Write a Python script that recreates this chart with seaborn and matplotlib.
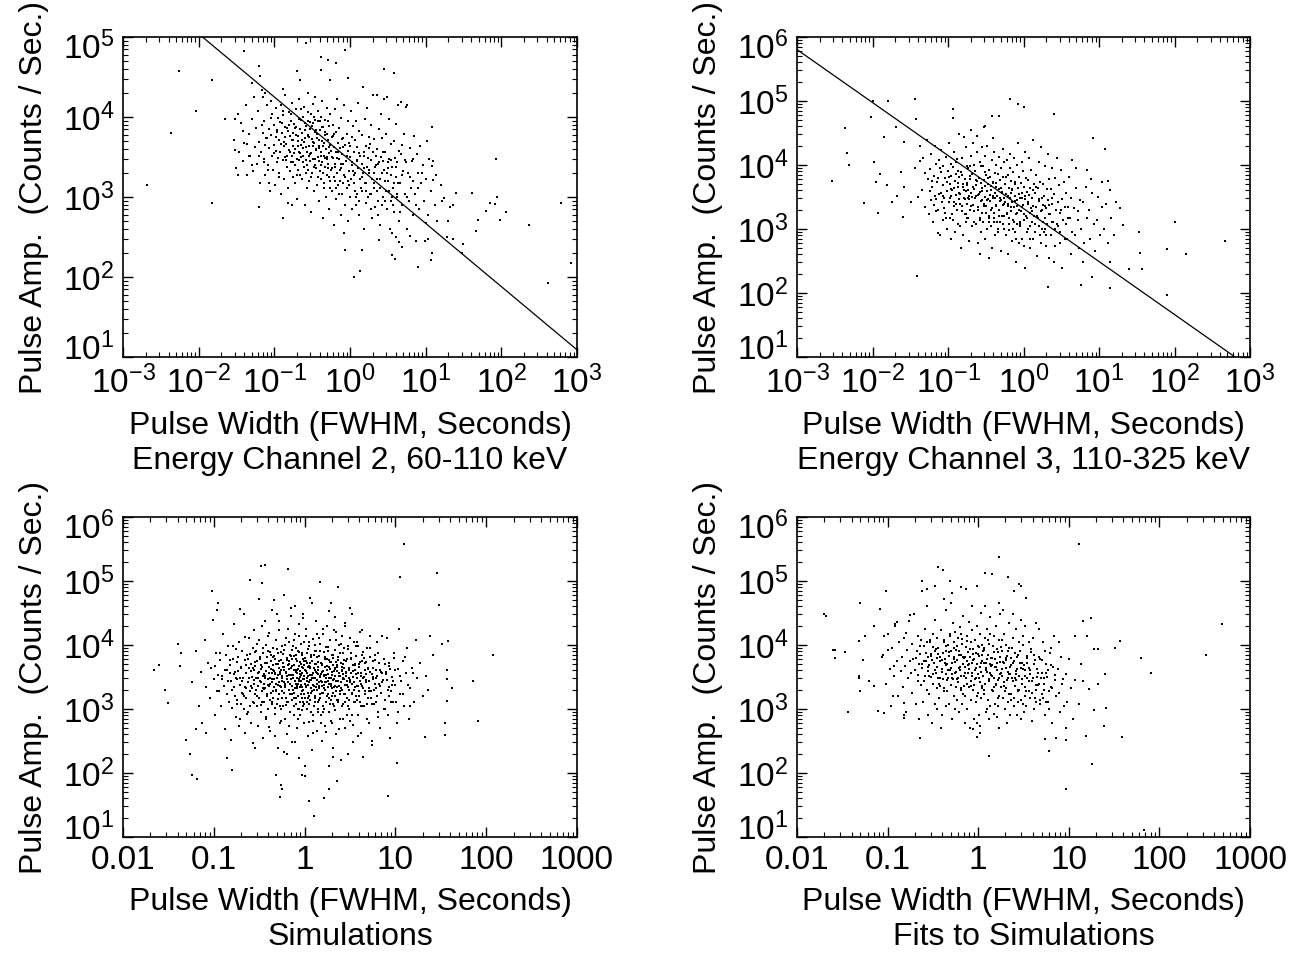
import numpy as np
import pandas as pd
import matplotlib
matplotlib.use("Agg")
import matplotlib.pyplot as plt
import matplotlib.ticker as mticker
import matplotlib.transforms as mtransforms
import seaborn as sns

# ---------------- data (width [s], amplitude [counts/s]) ----------------
ch2_points = [
    # outliers / sparse
    (0.0021,1400),(0.0043,6400),(0.0055,38000),(0.0091,12000),(0.015,29000),(0.015,830),(0.022,9400),
    (0.030,9400),(0.030,3900),(0.038,6600),(0.040,66000),(0.031,2300),(0.033,1860),(0.044,4650),
    (0.046,3250),(0.050,2500),(0.051,26500),(0.062,44000),(0.064,33000),(0.062,760),(0.073,2700),
    (0.071,18000),(0.076,20000),(0.079,5450),(0.086,1500),(0.13,550),(0.15,840),(0.13,22500),
    (0.20,38000),(0.26,83000),(0.22,29000),(0.41,56000),(0.41,39000),(0.51,52000),(0.55,29000),
    (0.65,47000),(0.85,68000),(0.95,31000),(1.48,24000),(2.8,40000),(3.85,35000),(85,3000),(87,1000),
    (82,810),(71,830),(62,660),(95,510),(115,650),(230,450),(410,85),(610,830),(830,150),(49,510),
    (46,375),(41,1120),(31,262),(30,200),(25,1120),(23,800),(21,760),(23,300),(19,320),(20,500),
    (17.5,975),(16.5,890),(16,1400),(14,500),(12,2470),(12,7600),(12.4,1650),(11.7,165),(12,200),
    (10.6,295),(7.8,135),(9.8,280),(10,480),(1.35,120),(1.12,100),(1.46,215),(0.85,220),(3.6,190),
    (3.9,170),(4.85,235),(4.1,320),(2.4,290),(4.5,270),(3.6,355),(2.3,19000),(3.1,18000),(4.7,15500),
    (5.6,14000),
    # main cloud
    (0.029,5200),(0.031,2300),(0.033,11000),(0.034,3600),
    (0.036,8400),(0.038,2800),(0.04,4700),(0.042,14000),(0.044,1900),
    (0.046,6100),(0.048,3300),(0.05,9500),(0.052,2100),(0.054,18000),(0.055,4200),
    (0.057,7200),(0.059,2600),(0.061,12000),(0.063,4900),(0.065,1500),(0.067,3700),(0.069,22000),(0.07,6300),
    (0.072,3000),(0.074,9000),(0.076,1900),(0.078,5500),(0.08,14000),(0.082,2500),(0.084,7000),(0.086,4100),
    (0.088,1200),(0.089,16000),
    (0.09,6000),(0.092,3300),(0.094,11000),(0.096,2200),(0.098,8000),(0.1,4500),(0.102,1400),(0.104,13000),
    (0.106,3800),(0.108,6900),(0.11,2700),(0.112,9800),
    (0.114,5200),(0.116,2000),(0.118,8700),(0.12,3600),(0.122,14000),(0.124,1100),(0.127,6300),(0.13,2900),
    (0.132,10500),(0.134,4400),(0.136,1700),(0.138,7600),(0.139,3200),(0.14,19000),
    (0.142,4600),(0.145,2400),(0.148,7200),(0.151,1300),(0.154,11500),(0.157,3900),(0.16,5800),(0.163,2100),
    (0.166,9000),(0.169,800),(0.171,3300),(0.173,15000),(0.175,6300),(0.176,1800),(0.177,4300),
    (0.179,2700),(0.182,8200),(0.185,4000),(0.188,1500),(0.191,6000),(0.194,12500),(0.197,3000),(0.2,950),
    (0.203,5000),(0.206,2200),(0.209,9500),(0.212,3600),(0.215,17000),(0.218,1900),(0.221,7000),(0.223,4500),
    (0.226,3200),(0.23,6400),(0.234,1700),(0.238,10000),(0.242,4100),(0.246,2400),(0.25,13500),(0.254,800),
    (0.258,5400),(0.262,2900),(0.266,7700),(0.27,1300),(0.274,3700),(0.277,20000),(0.279,5900),(0.28,2200),
    (0.281,9000),
    (0.285,4300),(0.289,1600),(0.293,7000),(0.297,2800),(0.301,11000),(0.305,3500),(0.309,650),(0.313,5300),
    (0.317,2000),(0.321,8300),(0.325,3000),(0.329,14500),(0.333,1200),(0.337,4800),(0.341,2500),(0.345,6500),
    (0.349,18000),(0.353,3900),
    (0.358,2300),(0.363,5500),(0.368,1400),(0.373,8800),(0.378,3200),(0.383,12000),(0.388,900),(0.393,4300),
    (0.398,2100),(0.403,6900),(0.408,3600),(0.413,1700),(0.418,10000),(0.423,5000),(0.428,2700),(0.433,16000),
    (0.438,550),(0.443,7600),
    (0.45,3300),(0.456,1500),(0.462,6000),(0.468,2400),(0.474,9300),(0.48,4000),(0.486,1000),(0.492,3000),
    (0.498,13000),(0.504,1900),(0.51,5200),(0.516,2600),(0.522,700),(0.528,7800),(0.534,3500),(0.54,1300),
    (0.546,11000),(0.552,4500),
    (0.566,2200),(0.574,5600),(0.582,1200),(0.59,8000),(0.598,3100),(0.606,450),(0.614,4200),(0.622,1800),
    (0.63,12500),(0.638,2600),(0.646,6500),(0.654,950),(0.662,3600),(0.67,17000),(0.678,2000),(0.686,4800),
    (0.696,1400),
    (0.712,3000),(0.722,7200),(0.732,1600),(0.742,4100),(0.752,600),(0.762,2300),(0.772,9800),(0.782,3400),
    (0.792,1100),(0.802,5500),(0.812,2600),(0.822,350),(0.832,14000),(0.842,1900),(0.852,4500),(0.862,800),
    (0.895,2800),(0.906,6200),(0.918,1300),(0.93,3800),(0.942,9000),(0.955,500),(0.968,2100),(0.98,4800),
    (0.993,1000),(1.006,3200),(1.02,12000),(1.034,1700),(1.048,5600),(1.062,700),(1.076,2500),(1.09,7800),
    (1.13,3600),(1.145,1500),(1.16,5100),(1.175,2000),(1.19,800),(1.205,8900),(1.22,2800),(1.235,1100),
    (1.25,4200),(1.265,15000),(1.28,2300),(1.3,600),(1.32,6600),(1.34,1700),(1.36,3300),
    (1.42,2600),(1.44,1200),(1.46,6000),(1.485,2000),(1.51,400),(1.535,3700),(1.56,9500),(1.585,1500),
    (1.61,4400),(1.635,850),(1.66,2400),(1.685,13000),(1.71,3100),(1.735,1000),(1.76,5700),
    (1.8,2000),(1.83,4600),(1.86,1100),(1.89,2900),(1.92,8000),(1.95,550),(1.98,1700),(2.01,3700),
    (2.04,19000),(2.07,1300),(2.1,5300),(2.13,2400),(2.16,750),(2.2,3300),
    (2.26,1700),(2.3,4000),(2.34,900),(2.38,2600),(2.42,7000),(2.46,1300),(2.5,450),(2.55,3200),
    (2.6,11000),(2.64,2000),(2.68,5400),(2.72,1000),(2.76,2800),(2.8,17000),
    (2.85,2200),(2.9,3700),(2.96,1200),(3.02,6200),(3.08,700),(3.14,2700),(3.2,1600),(3.26,9500),
    (3.32,3000),(3.38,400),(3.44,1900),(3.5,4600),(3.54,1000),
    (3.6,2400),(3.68,1300),(3.76,5000),(3.84,650),(3.92,3100),(4.0,1800),(4.08,8200),(4.16,1000),
    (4.24,2700),(4.32,14000),(4.4,500),(4.46,3800),
    (4.55,1500),(4.7,3400),(4.85,800),(5.0,2100),(5.15,6200),(5.3,1100),(5.45,2700),(5.55,13500),
    (5.6,400),(4.9,4500),
    (5.8,2000),(6.0,900),(6.2,4100),(6.4,1300),(6.6,2800),(6.8,600),(7.0,5800),(6.3,330),(6.9,1600),
    (7.3,1100),(7.6,3400),(7.9,2000),(8.2,700),(8.5,4300),(8.8,1500),(7.5,280),
    (9.2,2500),(9.6,900),(10.0,1700),(10.4,5000),(10.8,600),(11.0,3000),
    (11.8,1200),(12.6,2800),(13.2,800),(13.8,1900),
    # denser core
    (0.105,5700),(0.112,3100),(0.125,8300),(0.133,4900),(0.143,2900),(0.152,6700),(0.161,3700),(0.168,11000),
    (0.178,5200),(0.186,2500),(0.196,7600),(0.205,4300),(0.214,2900),(0.224,9200),(0.232,5100),(0.24,3300),
    (0.252,6900),(0.261,4200),(0.27,2500),(0.28,11500),(0.29,5600),(0.3,3400),(0.31,7800),(0.32,4400),
    (0.335,2400),(0.346,9300),(0.36,4000),(0.37,6100),(0.385,2800),(0.395,5200),(0.41,3300),(0.425,7400),
    (0.44,2000),(0.455,4800),(0.47,3100),(0.49,6200),(0.51,2300),(0.53,4200),(0.55,1600),(0.57,3200),
    (0.6,5800),(0.63,2400),(0.66,1300),(0.7,3600),(0.74,2200),(0.78,5300),(0.82,1500),(0.88,2800),
    (0.94,1600),(1.0,4300),(1.08,2100),(1.15,1200),(1.24,2900),(1.33,900),(1.45,1800),(1.55,3300),
    (1.65,1200),(1.78,2200),(1.9,700),(2.05,1500),(2.2,2500),(2.35,600),(2.5,1700),(2.7,3600),
    (2.9,900),(3.1,2000),(3.3,1200),(3.5,2900),(3.75,800),(4.0,2400),(4.3,1500),(4.6,650),
    (4.9,1900),(5.3,2900),(5.7,1000),(6.2,1800),(6.8,3000),(7.4,800),(8.0,1300),(9.0,2000),
    (0.062,3300),(0.068,8000),(0.075,4500),(0.083,2200),(0.091,9800),(0.099,3500),(0.107,6500),(0.115,1800),
    (0.123,4600),(0.131,12000),(0.139,5700),(0.147,3300),(0.156,8000),(0.164,2700),(0.172,5200),(0.181,3500),
    (0.19,7300),(0.199,1900),(0.208,5800),(0.218,3500),(0.228,12500),(0.237,2700),(0.247,4900),(0.256,8400),
    (0.266,2000),(0.276,5800),(0.286,3300),(0.298,8600),(0.309,1800),(0.321,4900),(0.334,10000),(0.347,3000),
    (0.36,6800),(0.375,1800),(0.39,4100),(0.405,9000),(0.42,2500),(0.436,4400),(0.453,1300),(0.47,6500),
    (0.49,3200),(0.51,8800),(0.532,1800),(0.555,3800),(0.58,2300),(0.61,6100),(0.64,1600),(0.675,3100),
    (0.71,1100),(0.75,2600),(0.8,4200),(0.86,1800),(0.92,3300),(0.98,1400),(1.05,2700),(1.12,1900),
    (1.2,1000),(1.3,3500),(1.4,1300),(1.52,2300),(1.64,1500),(1.77,4100),(1.92,1100),(2.08,2000),
    (2.25,1200),(2.45,2700),(2.66,800),(2.9,1600),(3.15,2300),(3.45,900),(3.8,1500),(4.2,1100),
]

ch3_points = [
    # outliers / sparse
    (0.0029,5700),(0.0043,38000),(0.0046,15500),(0.0049,9900),(0.0076,2570),(0.0095,56000),(0.010,100000),
    (0.0104,11200),(0.011,5400),(0.0118,1800),(0.0126,7200),(0.016,100000),(0.0143,27000),(0.0155,4800),
    (0.0183,2600),(0.0205,39000),(0.021,3300),(0.0235,7700),(0.025,1550),(0.026,4600),(0.0265,23000),
    (0.037,107000),(0.038,52000),(0.039,185),(0.036,8900),(0.032,2600),(0.042,11500),(0.056,1700),
    (0.074,870),(0.115,75000),(0.115,54000),(0.30,39000),(0.385,59000),(0.47,59000),(0.66,107000),
    (0.85,89000),(1.0,81000),(2.5,63000),(8.4,26500),(12,17500),(13,5700),(19,2100),(21,1170),(34,900),
    (35,420),(37,233),(25,233),(14,300),(14,120),(5.8,135),(2.1,125),(80,490),(100,1300),(140,410),
    (80,93),(470,650),(8,180),
    # main cloud
    (0.036,9000),(0.04,3200),(0.043,20000),
    (0.045,4000),(0.047,13000),(0.049,2200),(0.05,7500),(0.053,25000),(0.055,6000),
    (0.057,8600),(0.059,2800),(0.06,15000),(0.062,4600),(0.064,1300),(0.065,6800),(0.067,3300),(0.068,20000),
    (0.069,1900),(0.07,10500),
    (0.072,5400),(0.074,2000),(0.075,12000),(0.077,3500),(0.079,800),(0.08,7700),(0.082,17000),(0.083,2600),
    (0.085,4800),(0.086,1400),(0.087,9500),(0.088,3000),
    (0.09,6300),(0.092,1800),(0.094,13500),(0.096,3900),(0.098,1000),(0.1,8200),(0.102,2600),(0.104,22000),
    (0.106,5000),(0.107,1500),(0.108,3300),(0.109,10500),(0.11,700),(0.111,6800),
    (0.113,4100),(0.115,1400),(0.117,9200),(0.119,2600),(0.121,16000),(0.123,5600),(0.125,900),(0.127,3400),
    (0.129,7300),(0.131,2000),(0.133,12500),(0.135,4500),(0.137,1200),(0.138,30000),(0.139,2900),(0.14,6400),
    (0.142,3700),(0.145,1100),(0.148,7900),(0.151,2300),(0.154,13000),(0.157,4600),(0.16,800),(0.163,3000),
    (0.166,6100),(0.169,1700),(0.171,19000),(0.173,3900),(0.175,1300),(0.176,9800),(0.177,2500),(0.178,5200),
    (0.15,500),(0.165,27000),
    (0.18,4800),(0.183,1500),(0.186,9000),(0.189,2900),(0.192,650),(0.195,6000),(0.198,2000),(0.201,14000),
    (0.204,3600),(0.207,1100),(0.21,7300),(0.213,2400),(0.216,22000),(0.219,4200),(0.221,1300),(0.223,10000),
    (0.19,3300),(0.2,35000),
    (0.226,3100),(0.23,8000),(0.234,1200),(0.238,4800),(0.242,16000),(0.246,2200),(0.25,600),(0.254,6200),
    (0.258,3500),(0.262,1500),(0.266,11000),(0.27,2700),(0.274,5300),(0.277,900),(0.279,19000),(0.28,3900),
    (0.281,1800),(0.24,28000),(0.265,400),
    (0.285,4300),(0.289,1300),(0.293,9500),(0.297,2500),(0.301,5800),(0.305,700),(0.309,3200),(0.313,14000),
    (0.317,1800),(0.321,7000),(0.325,3900),(0.329,1000),(0.333,20000),(0.337,2900),(0.341,5000),(0.345,1500),
    (0.349,8400),(0.353,350),(0.31,40000),
    (0.358,2700),(0.363,6600),(0.368,1100),(0.373,4000),(0.378,12000),(0.383,2100),(0.388,500),(0.393,5400),
    (0.398,3000),(0.403,16000),(0.408,1500),(0.413,7500),(0.418,3600),(0.423,800),(0.428,10000),(0.433,2300),
    (0.438,4600),(0.443,1300),(0.4,26000),
    (0.45,3300),(0.456,900),(0.462,7200),(0.468,2000),(0.474,13500),(0.48,4200),(0.486,1300),(0.492,5800),
    (0.498,450),(0.504,2800),(0.51,9000),(0.516,1600),(0.522,3800),(0.528,18000),(0.534,2400),(0.54,6400),
    (0.546,1000),(0.552,3100),(0.558,11000),
    (0.566,2600),(0.574,5000),(0.582,800),(0.59,3500),(0.598,12000),(0.606,1700),(0.614,7000),(0.622,2300),
    (0.63,400),(0.638,4400),(0.646,1200),(0.654,9000),(0.662,3000),(0.67,15000),(0.678,1900),(0.686,5600),
    (0.694,650),(0.702,2600),
    (0.712,4000),(0.722,1400),(0.732,7800),(0.742,2200),(0.752,13000),(0.762,900),(0.772,3300),(0.782,5500),
    (0.792,1700),(0.802,300),(0.812,2800),(0.822,10000),(0.832,1200),(0.842,4300),(0.852,22000),(0.862,2000),
    (0.872,6400),(0.882,600),
    (0.895,3000),(0.906,1100),(0.918,5200),(0.93,1900),(0.942,11000),(0.955,700),(0.968,3700),(0.98,2400),
    (0.993,8000),(1.006,1400),(1.02,4600),(1.034,250),(1.048,2900),(1.062,16000),(1.076,1600),(1.09,6300),
    (1.105,900),
    (1.13,2500),(1.145,5800),(1.16,1000),(1.175,3400),(1.19,13000),(1.205,1800),(1.22,500),(1.235,4300),
    (1.25,2100),(1.265,8500),(1.28,1300),(1.3,3000),(1.32,25000),(1.34,700),(1.36,5000),(1.38,1600),
    (1.42,3600),(1.44,1200),(1.46,7000),(1.485,2200),(1.51,380),(1.535,4300),(1.56,1500),(1.585,11000),
    (1.61,2700),(1.635,800),(1.66,5500),(1.685,1900),(1.71,19000),(1.735,3000),(1.76,1000),
    (1.8,2400),(1.83,5000),(1.86,900),(1.89,3300),(1.92,1500),(1.95,9500),(1.98,550),(2.01,2100),
    (2.04,4200),(2.07,1200),(2.1,15000),(2.13,2800),(2.16,350),(2.2,6000),
    (2.26,1700),(2.3,4200),(2.34,800),(2.38,2500),(2.42,9000),(2.46,1300),(2.5,300),(2.55,3500),
    (2.6,1000),(2.64,6200),(2.68,2000),(2.76,13000),
    (2.85,2600),(2.9,1100),(2.96,4800),(3.02,600),(3.08,1800),(3.14,8500),(3.2,2900),(3.26,250),
    (3.32,1400),(3.4,5400),(3.5,2200),
    (3.6,1200),(3.7,3600),(3.8,700),(3.9,2200),(4.0,6500),(4.1,1500),(4.2,400),(4.3,3000),(4.4,900),
    (4.45,12000),
    (4.6,2100),(4.8,800),(5.0,4400),(5.2,1400),(5.4,500),(5.6,2800),(4.9,9000),(5.3,1900),
    (5.8,1000),(6.1,2600),(6.4,600),(6.7,4500),(7.0,1500),(6.2,300),(6.9,8500),
    (7.3,2000),(7.7,700),(8.1,3700),(8.5,1200),(8.9,450),(7.9,6000),
    (9.3,1400),(9.8,3200),(10.3,800),(10.8,2200),(11.1,5500),
    (11.6,1000),(12.3,2500),(13,600),(13.8,4000),
    (14.6,1500),(15.8,800),(17,2600),
    # denser core
    (0.058,3900),(0.066,2400),(0.073,6300),(0.081,3700),(0.089,2100),(0.097,5400),(0.105,3100),(0.113,1700),
    (0.12,4300),(0.128,2500),(0.136,8200),(0.144,3500),(0.152,1900),(0.16,5100),(0.168,2900),(0.176,1500),
    (0.185,4000),(0.194,6800),(0.203,2300),(0.212,4600),(0.222,1300),(0.232,3300),(0.243,5600),(0.253,2000),
    (0.263,3800),(0.273,9500),(0.283,2800),(0.295,1300),(0.307,4700),(0.32,2300),(0.334,6200),(0.347,1600),
    (0.36,3400),(0.375,2000),(0.39,5200),(0.405,1300),(0.42,3100),(0.437,2400),(0.455,7200),(0.473,1600),
    (0.49,3000),(0.51,4400),(0.53,1200),(0.55,2500),(0.575,5000),(0.6,1800),(0.625,3300),(0.65,950),
    (0.68,2200),(0.71,4200),(0.74,1300),(0.77,2700),(0.8,700),(0.83,1800),(0.87,3500),(0.91,1200),
    (0.95,2200),(1.0,550),(1.05,3300),(1.1,1500),(1.16,2600),(1.22,700),(1.28,1900),(1.35,4000),
    (1.42,900),(1.5,1600),(1.6,2900),(1.7,600),(1.8,1300),(1.9,2300),(2.0,800),(2.2,1700),
    (2.4,3000),(2.6,550),(2.8,1200),(3.1,2000),(3.5,700),(3.9,1500),
    (0.062,5600),(0.07,2900),(0.078,9000),(0.086,3300),(0.095,1500),(0.103,6400),(0.111,4200),(0.119,2300),
    (0.127,11000),(0.135,5200),(0.145,2500),(0.155,7000),(0.165,4000),(0.175,1700),(0.186,3000),(0.198,9800),
    (0.21,3200),(0.223,1900),(0.236,5800),(0.25,3400),(0.265,1400),(0.28,4400),(0.296,2300),(0.313,7900),
    (0.33,2800),(0.35,1300),(0.37,4700),(0.39,3300),(0.412,1800),(0.435,5200),(0.46,1000),(0.485,2700),
    (0.515,3600),(0.545,1600),(0.58,6600),(0.615,2500),(0.65,1500),(0.69,3600),(0.73,1000),(0.78,5000),
    (0.83,2300),(0.89,1300),(0.96,3100),(1.03,1700),(1.12,3800),(1.22,1100),(1.33,2300),(1.46,4600),
    (1.6,1100),(1.76,2000),(1.95,1000),(2.15,2400),(2.4,1300),(2.7,2000),(3.0,900),
]

sim_points = [
    # outliers / sparse
    (0.022,4100),(0.025,4800),(0.029,2000),(0.031,1240),(0.040,10500),(0.043,7500),(0.042,4700),
    (0.050,325),(0.055,195),(0.057,92),(0.066,81),(0.063,480),(0.083,420),(0.096,71000),(0.109,35000),
    (0.11,46000),(0.14,170),(0.16,110),(0.195,36000),(0.25,105000),(0.33,170000),(0.37,176000),
    (0.34,93000),(0.65,155000),(0.49,92),(0.55,65),(0.56,56),(0.54,42),(0.94,93),(1.12,37),(1.28,21),
    (1.65,40),(1.85,56),(2.3,76),(8.3,44),(11.2,115000),(12.3,380000),(29,133000),(30,42000),
    (38,11500),(33,10500),(42,2100),(37,4000),(37,2900),(37,1320),(35,600),(35,390),(72,2700),
    (82,660),(120,7100),(24,14000),(21,360),(10.3,145),
    # main cloud
    (0.058,2600),(0.064,8000),(0.069,1100),
    (0.072,3800),(0.075,600),(0.079,12000),(0.083,2200),(0.087,5200),
    (0.090,1500),(0.093,4400),(0.097,25000),(0.1,2900),(0.104,800),(0.107,7600),(0.11,3400),
    (0.113,1900),(0.116,5800),(0.12,1100),(0.123,3300),(0.127,15000),(0.13,2300),(0.134,480),(0.137,6900),
    (0.14,4000),
    (0.142,2700),(0.145,9500),(0.148,1300),(0.152,4800),(0.155,330),(0.158,2000),(0.162,6100),(0.165,3500),
    (0.169,21000),(0.172,1600),(0.175,750),(0.177,3000),
    (0.179,5400),(0.182,1200),(0.185,3900),(0.188,11000),(0.192,2400),(0.195,700),(0.199,4600),(0.202,1800),
    (0.206,8200),(0.209,3100),(0.213,1000),(0.216,30000),(0.219,2200),(0.221,5900),(0.223,420),
    (0.226,3600),(0.229,1500),(0.233,7000),(0.236,2600),(0.24,900),(0.243,4300),(0.247,13000),(0.25,1900),
    (0.254,5100),(0.258,600),(0.262,3200),(0.265,2100),(0.269,9000),(0.272,1300),(0.275,4000),(0.277,17000),
    (0.279,2800),(0.281,250),
    (0.284,4700),(0.287,1700),(0.29,3000),(0.293,8000),(0.297,1100),(0.3,5600),(0.304,2300),(0.307,550),
    (0.311,3800),(0.315,12000),(0.318,1500),(0.322,6500),(0.326,2700),(0.33,900),(0.334,4200),(0.337,20000),
    (0.341,1900),(0.345,3300),(0.348,350),(0.351,7400),(0.354,2500),
    (0.357,3500),(0.36,1300),(0.364,5300),(0.368,2100),(0.372,10000),(0.376,700),(0.38,3900),(0.384,1600),
    (0.388,6600),(0.392,2900),(0.396,14000),(0.4,1000),(0.404,4500),(0.408,2300),(0.412,450),(0.416,7800),
    (0.42,3000),(0.424,1800),(0.428,5600),(0.432,35000),(0.436,1200),(0.44,3600),(0.443,2600),(0.446,9000),
    (0.449,4100),(0.454,1500),(0.459,2900),(0.464,6800),(0.469,850),(0.474,3500),(0.479,2000),(0.484,12000),
    (0.489,5000),(0.494,1200),(0.499,3100),(0.504,250),(0.509,7400),(0.514,2400),(0.519,4400),(0.524,1700),
    (0.529,17000),(0.534,600),(0.539,3800),(0.544,2200),(0.549,5900),(0.553,1000),(0.557,9600),(0.56,2700),
    (0.46,50000),(0.52,24000),
    (0.565,3300),(0.57,1900),(0.576,5200),(0.582,1100),(0.588,8500),(0.594,2600),(0.6,4000),(0.606,700),
    (0.612,2200),(0.618,13000),(0.624,1500),(0.63,3700),(0.636,6300),(0.642,400),(0.648,2900),(0.654,1300),
    (0.66,4800),(0.666,11000),(0.672,2000),(0.678,3400),(0.684,900),(0.69,7100),(0.696,2500),(0.702,28000),
    (0.705,1700),(0.59,60000),(0.64,200),(0.68,5600),
    (0.711,4300),(0.718,2300),(0.726,6000),(0.733,1400),(0.74,3100),(0.748,9500),(0.755,1800),(0.763,4900),
    (0.77,800),(0.778,2700),(0.786,15000),(0.794,3800),(0.802,1200),(0.81,6900),(0.818,2100),(0.826,500),
    (0.834,4000),(0.842,1600),(0.85,8000),(0.858,2900),(0.866,21000),(0.874,1000),(0.882,3500),(0.889,5400),
    (0.73,300),(0.79,40000),(0.84,2500),(0.86,170),(0.76,12000),
    (0.894,3200),(0.902,1700),(0.91,5000),(0.918,2400),(0.927,950),(0.935,7600),(0.944,3600),(0.952,1300),
    (0.961,4400),(0.97,2000),(0.979,11000),(0.988,600),(0.997,2900),(1.006,6300),(1.015,1500),(1.024,3900),
    (1.033,18000),(1.043,2200),(1.052,1000),(1.062,5200),(1.072,2700),(1.081,380),(1.091,8700),(1.101,3300),
    (1.11,1200),(1.118,4700),(0.95,30000),(1.0,90),(1.04,14000),(1.09,1800),
    (1.125,2600),(1.135,4600),(1.146,1400),(1.157,3400),(1.168,7000),(1.179,900),(1.19,2800),(1.201,5600),
    (1.212,1900),(1.224,12500),(1.235,3700),(1.247,650),(1.258,2300),(1.27,4300),(1.282,1100),(1.294,8200),
    (1.306,3000),(1.318,1600),(1.331,5100),(1.343,24000),(1.356,450),(1.369,2500),(1.382,6400),(1.395,1300),
    (1.405,3500),(1.16,55000),(1.22,230),(1.3,10000),(1.37,2000),
    (1.42,4100),(1.435,2100),(1.45,6800),(1.465,1500),(1.48,3200),(1.495,10500),(1.51,800),(1.525,2700),
    (1.54,5000),(1.555,1800),(1.57,3800),(1.585,15000),(1.6,1100),(1.615,2400),(1.63,7700),(1.645,3400),
    (1.66,550),(1.675,4600),(1.69,2000),(1.705,9200),(1.72,1300),(1.735,3000),(1.75,20000),(1.765,6000),
    (1.47,95000),(1.56,320),(1.68,2600),(1.78,1600),
    (1.8,3500),(1.82,1700),(1.84,5800),(1.86,2500),(1.88,900),(1.9,4200),(1.92,12000),(1.94,1400),
    (1.96,3000),(1.98,7100),(2.0,2100),(2.02,600),(2.04,4900),(2.06,1200),(2.08,2800),(2.1,17000),
    (2.12,3900),(2.14,1600),(2.16,8500),(2.18,2300),(2.2,400),(2.22,5500),(1.85,130),(1.95,45000),
    (2.05,250),(2.15,27000),
    (2.25,4500),(2.28,2200),(2.31,6400),(2.34,1300),(2.37,3300),(2.4,10000),(2.43,1900),(2.46,700),
    (2.49,5200),(2.52,2600),(2.55,3900),(2.58,14000),(2.61,1100),(2.64,2900),(2.67,7400),(2.7,1700),
    (2.73,4300),(2.76,500),(2.79,22000),(2.81,2400),(2.35,80000),(2.5,160),(2.62,3500),(2.72,9000),
    (2.84,3300),(2.88,5600),(2.92,1500),(2.96,2700),(3.0,8800),(3.04,1100),(3.08,4100),(3.12,2000),
    (3.16,13000),(3.2,650),(3.24,3600),(3.28,6300),(3.32,1700),(3.36,2500),(3.4,300),(3.44,4800),
    (3.48,11000),(3.52,1300),(3.0,200),(3.3,30000),(3.1,3000),
    (3.58,4000),(3.63,2200),(3.68,6800),(3.73,1400),(3.78,3000),(3.83,9800),(3.88,800),(3.93,5100),
    (3.98,1900),(4.03,2700),(4.08,16000),(4.13,1100),(4.18,3700),(4.23,420),(4.28,5700),(4.33,2300),
    (4.38,180),(4.43,7900),
    (4.5,3200),(4.58,5300),(4.66,1700),(4.74,2600),(4.82,9000),(4.9,1200),(4.98,4200),(5.06,600),
    (5.14,2100),(5.22,6600),(5.3,14000),(5.38,1500),(5.46,3500),(5.54,270),(5.6,2900),
    (5.7,4400),(5.82,2000),(5.94,7000),(6.06,1300),(6.18,3100),(6.3,11000),(6.42,900),(6.54,2500),
    (6.66,5200),(6.78,500),(6.9,1800),(7.02,3800),
    (7.2,2600),(7.4,6000),(7.6,1400),(7.8,3500),(8.0,13000),(8.2,800),(8.4,2200),(8.6,4700),(8.8,350),
    (8.9,1900),
    (9.1,3200),(9.4,1300),(9.7,7500),(10.0,2400),(10.3,600),(10.6,4200),(10.9,18000),(11.1,1700),
    (11.5,2700),(12.0,5600),(12.5,1100),(13.0,3600),(13.5,9000),(14.0,700),
    (14.5,2100),(15.2,4400),(16.0,1300),(16.8,12000),(17.5,3000),
    (18.5,5200),(20,1600),(21.5,3300),
    (23,2000),(26,7000),
    # denser core
    (0.205,2700),(0.215,1600),(0.228,4900),(0.235,850),(0.245,3100),(0.252,7200),(0.26,2300),(0.268,4300),
    (0.275,1250),(0.283,5500),(0.292,2000),(0.298,10500),
    (0.306,3700),(0.312,1500),(0.319,6100),(0.327,2600),(0.335,1150),(0.343,4600),(0.352,8900),(0.361,2050),
    (0.369,3300),(0.377,750),(0.385,5300),(0.394,2400),(0.402,15500),(0.41,3600),(0.419,1400),(0.427,7000),
    (0.435,2900),(0.444,4900),
    (0.452,1900),(0.461,3900),(0.47,6100),(0.478,1050),(0.487,2500),(0.496,8800),(0.506,3400),(0.515,1450),
    (0.525,5700),(0.535,2250),(0.545,4100),(0.555,650),(0.566,3000),(0.577,7200),(0.588,1800),(0.599,4600),
    (0.61,2500),(0.621,1150),(0.633,5900),(0.645,3300),(0.657,17500),(0.669,2000),(0.681,4200),(0.693,900),
    (0.705,6800),
    (0.715,2900),(0.725,1700),(0.735,4700),(0.745,3400),(0.755,1100),(0.765,6700),(0.775,2100),(0.785,4000),
    (0.795,9000),(0.805,1500),(0.815,3100),(0.825,5700),(0.835,2300),(0.845,700),(0.855,4200),(0.865,2700),
    (0.875,7800),(0.885,1300),(0.895,3900),(0.905,2700),(0.915,10500),(0.925,1900),(0.935,4600),(0.945,2200),
    (0.955,6000),(0.965,1100),(0.975,3300),(0.985,4900),(0.995,1700),
    (1.01,2500),(1.03,5700),(1.05,1300),(1.07,3700),(1.09,2400),(1.11,9800),(1.13,1600),(1.15,4300),
    (1.17,2100),(1.19,6400),(1.21,3000),(1.23,800),(1.25,3600),(1.27,2000),(1.29,5100),(1.31,1300),
    (1.33,3800),(1.35,8000),(1.37,2800),(1.39,1000),(1.41,4600),(1.43,2300),(1.45,13000),(1.47,3300),
    (1.49,1700),
    (1.52,5200),(1.55,2600),(1.58,900),(1.61,3900),(1.64,2100),(1.67,6600),(1.7,1300),(1.73,3400),
    (1.76,4700),(1.79,2200),(1.82,9200),(1.85,3000),(1.88,1500),(1.91,5500),(1.94,2500),(1.97,650),
    (2.0,3800),(2.03,1800),(2.06,6200),(2.09,2900),(2.12,1100),(2.15,4400),(2.18,3300),(2.21,12000),
    (2.24,1900),(2.28,4900),(2.32,2700),(2.36,1400),(2.4,3600),(2.44,7500),
    (2.5,2100),(2.56,4600),(2.62,1200),(2.68,3100),(2.74,5900),(2.8,1700),(2.86,3800),(2.92,2400),
    (2.98,9500),(3.05,1400),(3.12,4300),(3.19,2600),(3.26,6000),(3.33,800),(3.4,3200),(3.48,2000),
    (3.56,5100),(3.64,1600),(3.72,3500),(3.8,11000),(3.9,2300),(4.0,4600),(4.1,1300),(4.2,3300),
    (4.3,6900),(4.4,2100),(4.5,1100),(4.6,4000),(4.7,2800),(4.8,5500),
    (5.1,1900),(5.3,3800),(5.5,1200),(5.7,5600),(5.9,2500),(6.1,4000),(6.3,1600),(6.5,7500),
    (6.8,2300),(7.1,3600),(7.4,1000),(7.7,5000),(8.0,2800),(8.4,1600),(8.8,4200),(9.2,2400),
    (9.6,6300),(10.1,1300),
    (0.102,4700),(0.108,1900),(0.118,7500),(0.124,2900),(0.132,4100),(0.141,1700),(0.149,5900),(0.156,2700),
    (0.163,9800),(0.171,3800),(0.178,1400),(0.186,6600),(0.194,3000),(0.2,1200),
    (0.152,3600),(0.158,1050),(0.167,2200),(0.174,8800),(0.181,2900),(0.189,540),(0.197,4300),(0.208,1700),
    (0.218,13500),(0.227,2100),(0.238,6000),(0.249,1100),(0.257,3900),(0.267,290),(0.276,2500),(0.286,7800),
    (0.296,1600),(0.308,3100),(0.317,52000),(0.328,4900),(0.339,1300),(0.35,2100),(0.362,24000),(0.371,3000),
    (0.381,1700),(0.392,8200),(0.403,520),(0.414,2500),(0.426,4200),(0.437,1300),(0.448,6400),(0.458,2200),
    (0.467,380),(0.476,3700),(0.485,1900),(0.497,30000),(0.507,5100),(0.518,2600),(0.53,1100),(0.542,3500),
    (0.553,7900),(0.565,1500),(0.578,4600),(0.59,210),(0.602,2300),(0.614,10000),(0.627,3800),(0.64,1300),
    (0.653,2600),(0.666,540),(0.679,5100),(0.692,1700),(0.7,38000),(0.713,3400),(0.727,8500),(0.741,2000),
    (0.756,4000),(0.77,1500),(0.784,300),(0.799,2500),(0.813,6100),(0.828,3600),(0.843,1000),(0.858,14000),
    (0.872,4700),(0.887,2200),(0.9,800),(0.912,3400),(0.925,6900),(0.94,1500),(0.953,26000),(0.966,2900),
    (0.98,5600),(0.994,1200),(1.008,4100),(1.022,130),(1.036,2300),(1.05,7500),(1.065,3100),(1.08,1500),
    (1.095,4600),(1.11,620),(1.126,11000),(1.142,2800),(1.158,5300),(1.175,1800),(1.192,3400),(1.21,45000),
    (1.227,2400),(1.245,420),(1.263,6900),(1.28,3100),(1.3,1500),(1.318,4100),(1.337,2200),(1.356,15000),
    (1.375,3600),(1.395,900),(1.415,5400),(1.435,2600),(1.456,1400),(1.477,8200),(1.498,3500),(1.52,610),
    (1.54,2300),(1.562,4900),(1.585,1800),(1.608,18000),(1.63,3300),(1.654,1000),(1.678,6000),(1.7,2600),
    (1.725,440),(1.75,4000),(1.775,1600),(1.8,8000),(1.826,2700),(1.852,34000),(1.88,4500),(1.907,1200),
    (1.935,2300),(1.963,5400),(1.99,1600),(2.02,3400),(2.05,180),(2.08,7000),(2.11,2200),(2.14,4200),
    (2.17,950),(2.2,2700),(2.23,16000),(2.27,3900),(2.3,1400),(2.34,5900),(2.37,2300),(2.41,480),
    (2.45,3300),(2.48,1700),(2.52,10500),(2.56,4000),(2.6,2000),(2.64,700),(2.68,5000),(2.72,2900),
    (2.77,1300),(2.81,20000),(2.86,3600),(2.9,800),(2.95,6100),(3.0,2200),(3.05,4000),(3.1,1000),
    (3.15,2800),(3.2,38000),(3.26,7500),(3.32,1800),(3.38,3900),(3.44,560),(3.5,2600),(3.56,4800),
    (3.63,1300),(3.7,9500),(3.77,2300),(3.84,3700),(3.92,380),(4.0,1600),(4.08,5400),(4.16,2500),
    (4.25,17000),(4.34,1100),(4.43,3100),(4.52,6200),(4.62,1900),(4.72,3500),(4.82,700),(4.93,4400),
    (5.04,1500),(5.16,2700),(5.28,9000),(5.4,1900),(5.52,320),(5.65,3200),(5.8,1200),(5.95,5800),
    (6.1,2100),(6.3,3300),(6.5,750),(6.7,4100),(6.9,1800),(7.1,14000),(7.3,2800),(7.6,1000),
    (7.9,3800),(8.2,2000),(8.6,5200),(9.0,1300),(9.5,2700),(10,4000),(10.6,900),(11.3,3300),
    (12,1700),(12.8,6500),(13.6,2400),(14.5,1100),(15.5,3600),
]

fit_points = [
    # outliers / sparse
    (0.020,30000),(0.021,28000),(0.025,8500),(0.026,8500),(0.026,6300),(0.034,7800),(0.037,890),
    (0.050,46000),(0.048,11500),(0.048,3300),(0.048,3000),(0.049,1900),(0.053,5800),(0.057,13700),
    (0.063,2700),(0.071,2300),(0.071,19500),(0.078,920),(0.082,37000),(0.086,6600),(0.091,870),
    (0.091,13700),(0.095,71000),(0.10,8500),(0.106,4200),(0.115,1580),(0.118,4700),(0.12,21000),
    (0.127,22500),(0.15,1260),(0.15,720),(0.15,810),(0.16,15500),(0.175,29000),(0.23,350),
    (0.24,100000),(0.24,69000),(0.27,75000),(0.33,85000),(0.36,163000),(0.41,148000),(0.42,53000),
    (0.49,99000),(0.52,66000),(0.65,81000),(0.73,75000),(0.97,84000),(0.97,360),(0.88,480),(1.05,420),
    (1.2,133000),(1.43,130000),(1.7,237000),(2.15,117000),(2.85,91000),(3.0,85000),(2.5,69000),
    (3.4,54000),(12.8,380000),(1.3,186),(1.7,500),(6.0,220),(5.5,340),(7.3,350),(9.3,56),(9.2,500),
    (9.3,330),(15.6,380),(18,138),(24.5,540),(25,3500),(26,1050),(32,9100),(37,11700),(39,370),
    (62,6300),(80,3700),(68,13),(330,6900),(490,21000),(17.5,26000),(14.5,24000),(11.7,14000),
    (21,8700),(19,8700),(21,2450),(19,950),(14.5,2700),(16.7,2050),(16,14000),
    # main cloud
    (0.09,7000),(0.095,2500),(0.1,15000),(0.105,4200),(0.11,1100),
    (0.113,9000),(0.118,3300),(0.122,20000),(0.127,5600),(0.131,1600),(0.135,11000),(0.139,3900),
    (0.143,6400),(0.147,2200),(0.151,13000),(0.155,4700),(0.16,900),(0.164,8300),(0.168,3000),(0.172,24000),
    (0.176,5600),
    (0.18,3600),(0.184,10500),(0.188,1800),(0.192,6000),(0.197,30000),(0.201,4000),(0.205,1200),(0.21,8000),
    (0.214,2700),(0.218,14000),(0.221,5000),(0.223,700),
    (0.226,7300),(0.231,2400),(0.236,12000),(0.241,4400),(0.246,1300),(0.251,9500),(0.256,3300),(0.261,18000),
    (0.266,5700),(0.271,2000),(0.275,40000),(0.278,3900),(0.28,800),(0.281,6600),
    (0.285,4800),(0.29,1700),(0.295,11000),(0.3,3200),(0.305,7200),(0.31,600),(0.315,15000),(0.32,2500),
    (0.325,5300),(0.33,1200),(0.335,25000),(0.34,3700),(0.344,8800),(0.348,2100),(0.351,6200),(0.353,1000),
    (0.355,13000),
    (0.358,3000),(0.364,9000),(0.37,1500),(0.376,5600),(0.382,2300),(0.388,17000),(0.394,4200),(0.4,800),
    (0.406,7400),(0.412,2900),(0.418,12000),(0.424,1900),(0.43,6000),(0.436,35000),(0.44,3500),(0.442,1100),
    (0.444,9700),(0.446,4800),(0.39,500),
    (0.45,5100),(0.456,1900),(0.462,10000),(0.468,3100),(0.474,6800),(0.48,1200),(0.486,14000),(0.492,4000),
    (0.498,2400),(0.504,8200),(0.51,700),(0.516,5300),(0.522,22000),(0.528,2900),(0.534,11000),(0.54,1600),
    (0.546,6500),(0.552,3600),(0.558,16000),(0.561,1000),(0.5,45000),
    (0.566,3800),(0.574,8500),(0.582,1400),(0.59,5800),(0.598,2600),(0.606,13000),(0.614,900),(0.622,4500),
    (0.63,19000),(0.638,2000),(0.646,7000),(0.654,3300),(0.662,1200),(0.67,10500),(0.678,5000),(0.686,28000),
    (0.694,2300),(0.702,6200),(0.706,600),(0.6,3000),(0.65,15000),(0.68,1700),(0.62,8000),
    (0.712,4600),(0.72,1600),(0.728,9200),(0.736,3000),(0.744,14000),(0.752,5700),(0.76,1000),(0.768,3700),
    (0.776,7800),(0.784,2200),(0.792,23000),(0.8,4200),(0.808,500),(0.816,6400),(0.824,2700),(0.832,11000),
    (0.84,1400),(0.848,5200),(0.856,17000),(0.864,3300),(0.872,8600),(0.88,2000),(0.888,700),(0.86,40000),
    (0.895,6000),(0.905,2400),(0.915,12000),(0.925,4000),(0.935,1300),(0.945,7600),(0.955,3100),(0.965,20000),
    (0.975,5000),(0.985,1800),(0.995,9500),(1.005,3500),(1.015,800),(1.025,6800),(1.035,2600),(1.045,15000),
    (1.055,4600),(1.065,1500),(1.075,32000),(1.085,3800),(1.095,10000),(1.105,2100),(1.115,5600),(0.96,600),
    (1.06,550),
    (1.125,3300),(1.14,8000),(1.155,1700),(1.17,5300),(1.185,13000),(1.2,2500),(1.215,4400),(1.23,900),
    (1.245,18000),(1.26,3800),(1.275,7000),(1.29,1400),(1.305,2900),(1.32,10500),(1.335,5000),(1.35,1100),
    (1.365,27000),(1.38,3400),(1.395,6300),(1.405,2000),(1.2,40000),(1.3,700),(1.15,9000),(1.25,1000),
    (1.35,15000),
    (1.42,4800),(1.44,1900),(1.46,9600),(1.48,3100),(1.5,14000),(1.52,1200),(1.54,6000),(1.56,2400),
    (1.58,20000),(1.6,4000),(1.62,750),(1.64,7700),(1.66,2800),(1.68,12000),(1.7,1600),(1.72,5400),
    (1.74,3500),(1.76,30000),(1.775,2200),(1.5,850),(1.6,8800),(1.7,45000),(1.65,1100),(1.55,4500),
    (1.8,3700),(1.83,8200),(1.86,1500),(1.89,5500),(1.92,2300),(1.95,15000),(1.98,1000),(2.01,4300),
    (2.04,10000),(2.07,2800),(2.1,6800),(2.13,1300),(2.16,22000),(2.19,3500),(2.22,800),(2.05,5800),
    (1.85,12000),(2.0,1900),(2.15,3000),(1.9,35000),(2.2,9000),(2.1,600),
    (2.26,4600),(2.3,1700),(2.34,9000),(2.38,3000),(2.42,13000),(2.46,1100),(2.5,5700),(2.55,2300),
    (2.6,18000),(2.64,3900),(2.68,800),(2.72,7100),(2.76,2000),(2.8,11000),(2.4,30000),(2.5,1500),
    (2.7,4200),(2.3,6200),(2.6,2800),(2.75,1300),
    (2.85,3300),(2.9,8000),(2.96,1400),(3.02,5200),(3.08,2500),(3.14,14000),(3.2,900),(3.26,4100),
    (3.32,20000),(3.38,1900),(3.44,6300),(3.5,3000),(3.0,700),(3.1,10000),(3.3,2200),(3.4,1100),
    (2.95,25000),(3.2,4800),
    (3.6,4400),(3.7,1500),(3.8,8800),(3.9,2700),(4.0,13000),(4.1,1000),(4.2,5800),(4.3,2000),(4.4,22000),
    (3.75,3500),(3.95,650),(4.15,7000),(4.35,1300),(3.65,11000),(4.45,3200),
    (4.55,2400),(4.7,6500),(4.85,1200),(5.0,3700),(5.15,11000),(5.3,2000),(5.45,800),(5.6,5000),
    (4.65,18000),(4.9,3000),(5.2,1500),(5.5,8000),
    (5.75,3200),(5.95,1300),(6.15,7500),(6.35,2200),(6.55,600),(6.75,4500),(6.95,14000),(6.0,1900),
    (6.4,9000),(7.0,2800),
    (7.3,1600),(7.6,4200),(7.9,900),(8.2,6500),(8.5,2500),(8.8,1100),(7.8,11000),
    (9.2,3500),(9.6,1300),(10.0,6000),(10.5,2100),(11.0,700),
    (11.8,2800),(12.8,1200),(13.5,5000),
    # denser core
    (0.205,6300),(0.216,3400),(0.228,9800),(0.24,5100),(0.252,2700),(0.265,7400),(0.278,4500),(0.292,12000),
    (0.306,5900),(0.32,3500),(0.335,8100),(0.35,4600),(0.366,2500),(0.382,6600),(0.4,3800),(0.418,11000),
    (0.435,5200),(0.455,2800),(0.475,7900),(0.495,4400),(0.515,3000),(0.537,9000),(0.56,5500),(0.585,2900),
    (0.61,6900),(0.635,4100),(0.66,12500),(0.69,3300),(0.72,6500),(0.75,2500),(0.78,4800),(0.81,8800),
    (0.845,3600),(0.88,5900),(0.915,2900),(0.95,4400),(0.99,7200),(1.03,3000),(1.07,5300),(1.11,2300),
    (1.16,8400),(1.21,4100),(1.26,6000),(1.31,2700),(1.37,4700),(1.43,3300),(1.49,7700),(1.56,2500),
    (1.63,5200),(1.7,3000),(1.77,9200),(1.85,4200),(1.93,2600),(2.02,6300),(2.11,3800),(2.2,1700),
    (2.3,4900),(2.41,2700),(2.52,7500),(2.63,3500),(2.75,1900),(2.88,5300),(3.01,2900),(3.15,4200),
    (3.3,1600),(3.45,6800),(3.6,2700),(3.77,4000),(3.95,1800),(4.15,5100),(4.35,2400),(4.55,3600),
    (4.8,1400),(5.05,5900),(5.3,2500),(5.6,3600),(6.0,1000),(6.4,4800),
    (0.255,5600),(0.27,11000),(0.285,3300),(0.3,6700),(0.318,9300),(0.337,4100),(0.356,7300),(0.375,3000),
    (0.395,5900),(0.415,2100),(0.438,8200),(0.46,4100),(0.484,15000),(0.508,3500),(0.534,6100),(0.562,2200),
    (0.59,9800),(0.62,4300),(0.65,2100),(0.683,6600),(0.717,3600),(0.753,11500),(0.79,5100),(0.83,2300),
    (0.87,7200),(0.914,4000),(0.96,1600),(1.01,9200),(1.06,4500),(1.11,6900),(1.17,2000),(1.23,5300),
    (1.29,12000),(1.35,3600),(1.42,6200),(1.49,2200),(1.57,4500),(1.65,1500),(1.73,6600),(1.82,3300),
    (1.91,5200),(2.01,2100),(2.11,8200),(2.22,3500),(2.33,1400),(2.45,5300),(2.57,3100),(2.7,6500),
    (2.84,2000),(2.98,4300),(3.13,1200),(3.29,3300),(3.46,5300),(3.63,1900),(3.82,7800),(4.01,3100),
    (4.2,1500),(4.42,4200),(4.64,2500),(4.87,6000),(5.12,1700),(5.38,3000),(5.65,1300),(5.93,4100),
    (6.5,2100),(7.1,3400),(7.8,1800),(8.6,2900),
]

# power-law fits: log10(amp) = intercept + slope * log10(width)
ch2_fit = (3.46, -0.79)
ch3_fit = (3.32, -0.828)

x_title = "Pulse Width (FWHM, Seconds)"
y_title = "Pulse Amp.  (Counts / Sec.)"
subtitles = ["Energy Channel 2, 60-110 keV", "Energy Channel 3, 110-325 keV",
             "Simulations", "Fits to Simulations"]

# ---------------- plotting ----------------
sns.set_style("ticks")
plt.rcParams['font.family'] = ['Liberation Sans', 'DejaVu Sans']
plt.rcParams['axes.unicode_minus'] = False
plt.rcParams['mathtext.fontset'] = 'custom'
plt.rcParams['mathtext.rm'] = 'Liberation Sans'
plt.rcParams['mathtext.default'] = 'regular'
for key in ('text.color', 'axes.labelcolor', 'xtick.color', 'ytick.color', 'axes.edgecolor'):
    plt.rcParams[key] = 'black'

W, H = 1303, 958
fig = plt.figure(figsize=(W / 100, H / 100), dpi=100)

def rect(x0, y0, x1, y1):
    return [x0 / W, 1 - y1 / H, (x1 - x0) / W, (y1 - y0) / H]

FS_TICK = 24
FS_LAB = 23
panels = [
    dict(r=rect(123, 37, 577, 357), pts=ch2_points, xlim=(1e-3, 1e3), ylim=(10, 1e5), fit=ch2_fit, pow_x=True),
    dict(r=rect(797, 37, 1250, 357), pts=ch3_points, xlim=(1e-3, 1e3), ylim=(10, 1e6), fit=ch3_fit, pow_x=True),
    dict(r=rect(123, 517, 577, 837), pts=sim_points, xlim=(1e-2, 1e3), ylim=(10, 1e6), fit=None, pow_x=False),
    dict(r=rect(797, 517, 1250, 837), pts=fit_points, xlim=(1e-2, 1e3), ylim=(10, 1e6), fit=None, pow_x=False),
]

for p, sub in zip(panels, subtitles):
    ax = fig.add_axes(p['r'])
    ax.set_xscale('log')
    ax.set_yscale('log')
    df = pd.DataFrame(p['pts'], columns=['width', 'amp'])
    sns.scatterplot(data=df, x='width', y='amp', ax=ax, color='black', marker='s',
                    s=3.2, linewidth=0, legend=False)
    if p['fit'] is not None:
        b, m = p['fit']
        xs = np.logspace(np.log10(p['xlim'][0]), np.log10(p['xlim'][1]), 60)
        ys = 10 ** (b + m * np.log10(xs))
        sns.lineplot(x=xs, y=ys, ax=ax, color='black', linewidth=0.9, estimator=None, sort=False)
    ax.set_xlim(*p['xlim'])
    ax.set_ylim(*p['ylim'])

    xt = 10.0 ** np.arange(np.log10(p['xlim'][0]), np.log10(p['xlim'][1]) + 0.5)
    yt = 10.0 ** np.arange(np.log10(p['ylim'][0]), np.log10(p['ylim'][1]) + 0.5)
    ax.xaxis.set_major_locator(mticker.FixedLocator(xt))
    ax.yaxis.set_major_locator(mticker.FixedLocator(yt))
    for axis in (ax.xaxis, ax.yaxis):
        axis.set_minor_locator(mticker.LogLocator(base=10, subs=np.arange(2, 10), numticks=20))
        axis.set_minor_formatter(mticker.NullFormatter())
    ax.yaxis.set_major_formatter(mticker.LogFormatterMathtext())
    if p['pow_x']:
        ax.xaxis.set_major_formatter(mticker.LogFormatterMathtext())
    else:
        ax.xaxis.set_major_formatter(mticker.FuncFormatter(lambda v, _: f"{v:g}"))

    ax.tick_params(which='both', direction='in', top=True, right=True, colors='black')
    ax.tick_params(which='major', length=7, width=1.0, labelsize=FS_TICK, pad=6)
    ax.tick_params(which='minor', length=3.5, width=0.8)
    for s in ax.spines.values():
        s.set_linewidth(1.2)
        s.set_color('black')

    # keep the lowest and highest y labels inside the frame, as in the original
    ylabels = ax.get_yticklabels()
    ylabels[0].set_transform(ylabels[0].get_transform() +
                             mtransforms.ScaledTranslation(0, 7.5 / 72, fig.dpi_scale_trans))
    ylabels[-1].set_transform(ylabels[-1].get_transform() +
                              mtransforms.ScaledTranslation(0, -6 / 72, fig.dpi_scale_trans))

    ax.set_xlabel(x_title + "\n" + sub, fontsize=FS_LAB, linespacing=1.2, labelpad=8)
    ax.set_ylabel(y_title, fontsize=FS_LAB, labelpad=10)

fig.savefig("out.png", dpi=100)
